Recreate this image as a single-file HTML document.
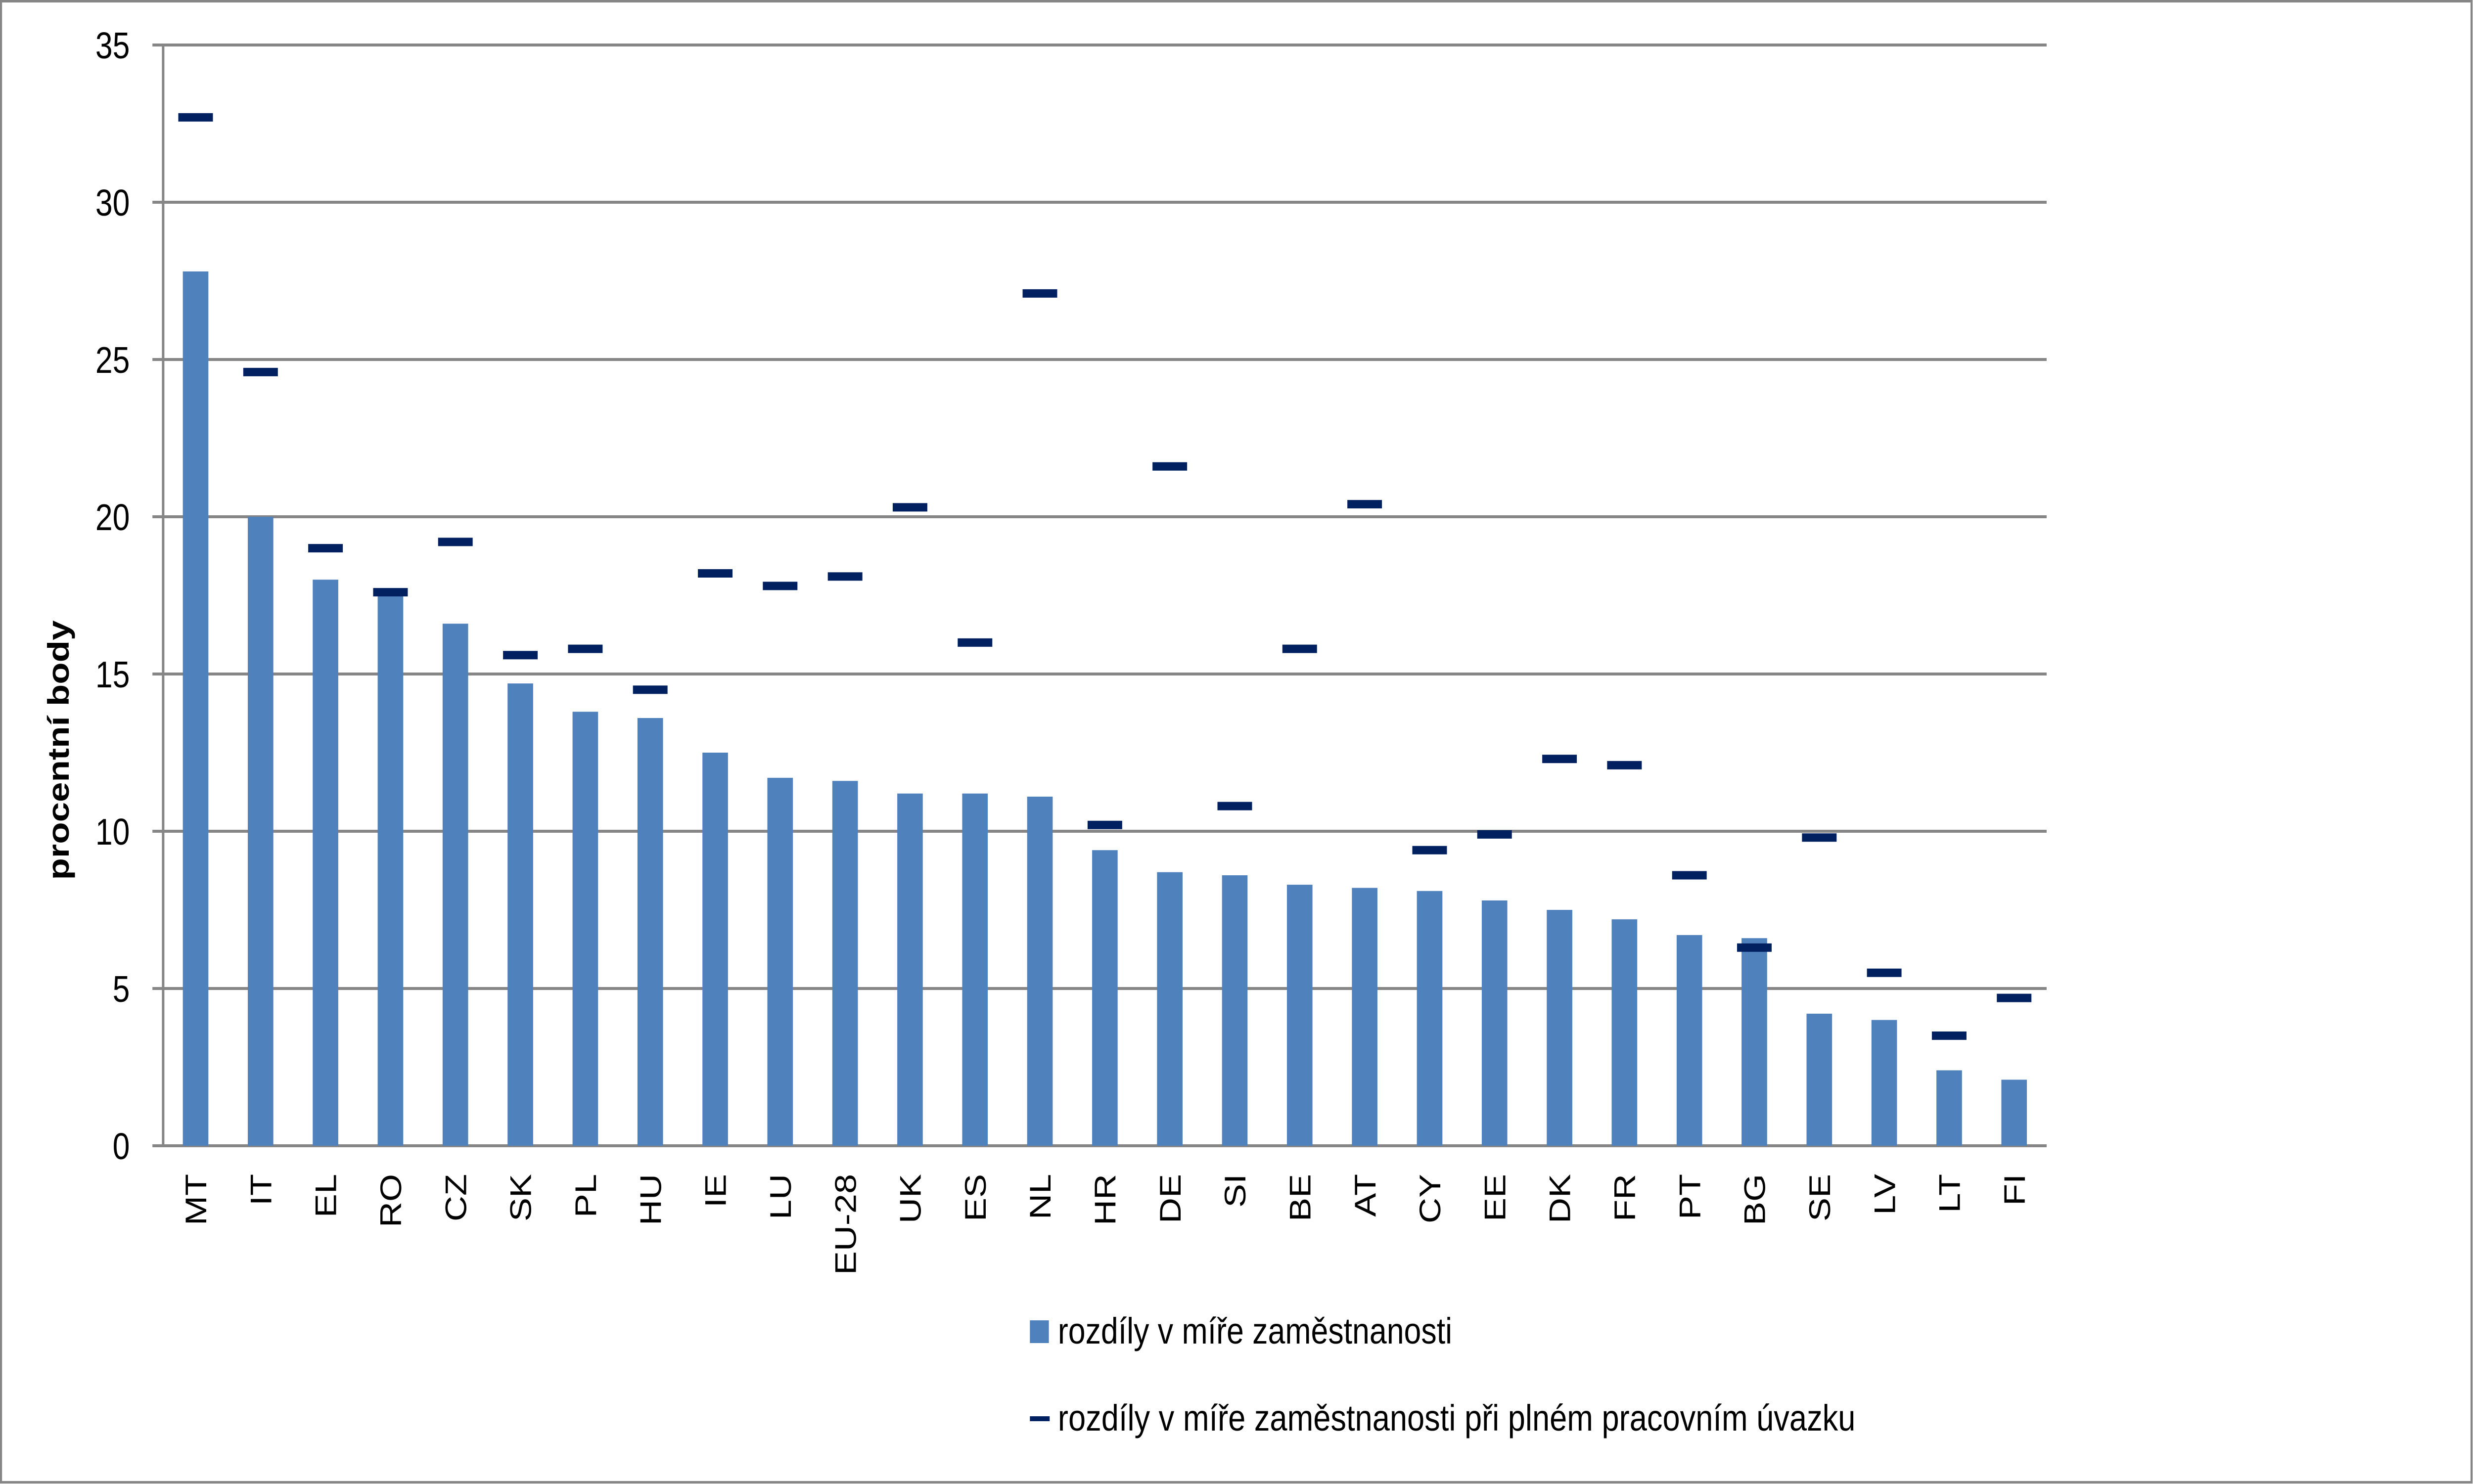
<!DOCTYPE html>
<html><head><meta charset="utf-8"><style>html,body{margin:0;padding:0;background:#fff;width:100%;height:100%;overflow:hidden}svg{display:block;position:fixed;left:0;top:0;width:100vw;height:100vh}</style></head><body>
<svg xmlns="http://www.w3.org/2000/svg" viewBox="0 0 6003 3001" preserveAspectRatio="none" font-family="Liberation Sans, sans-serif">
<rect x="0" y="0" width="6003" height="3001" fill="#fff"/>
<rect x="2.5" y="2.5" width="5997" height="2995" fill="none" stroke="#868686" stroke-width="5"/>
<g stroke="#868686" stroke-width="6">
<line x1="370" x2="4968" y1="91" y2="91"/>
<line x1="370" x2="4968" y1="409" y2="409"/>
<line x1="370" x2="4968" y1="727" y2="727"/>
<line x1="370" x2="4968" y1="1045" y2="1045"/>
<line x1="370" x2="4968" y1="1363" y2="1363"/>
<line x1="370" x2="4968" y1="1681" y2="1681"/>
<line x1="370" x2="4968" y1="1999" y2="1999"/>
<line x1="370" x2="4968" y1="2317" y2="2317"/>
<line x1="396" x2="396" y1="91" y2="2317"/>
</g>
<g font-size="75" text-anchor="end" fill="#000">
<text x="315" y="118">35</text>
<text x="315" y="436">30</text>
<text x="315" y="754">25</text>
<text x="315" y="1072">20</text>
<text x="315" y="1390">15</text>
<text x="315" y="1708">10</text>
<text x="315" y="2026">5</text>
<text x="315" y="2344">0</text>
</g>
<g fill="#4f81bd">
<rect x="443.8" y="548.9" width="62" height="1768.1"/>
<rect x="601.5" y="1045" width="62" height="1272"/>
<rect x="759.1" y="1172.2" width="62" height="1144.8"/>
<rect x="916.8" y="1197.6" width="62" height="1119.4"/>
<rect x="1074.4" y="1261.2" width="62" height="1055.8"/>
<rect x="1232.1" y="1382.1" width="62" height="934.9"/>
<rect x="1389.8" y="1439.3" width="62" height="877.7"/>
<rect x="1547.4" y="1452" width="62" height="865"/>
<rect x="1705.1" y="1522" width="62" height="795"/>
<rect x="1862.7" y="1572.9" width="62" height="744.1"/>
<rect x="2020.4" y="1579.2" width="62" height="737.8"/>
<rect x="2178" y="1604.7" width="62" height="712.3"/>
<rect x="2335.7" y="1604.7" width="62" height="712.3"/>
<rect x="2493.3" y="1611" width="62" height="706"/>
<rect x="2651" y="1719.2" width="62" height="597.8"/>
<rect x="2808.6" y="1763.7" width="62" height="553.3"/>
<rect x="2966.3" y="1770" width="62" height="547"/>
<rect x="3123.9" y="1789.1" width="62" height="527.9"/>
<rect x="3281.6" y="1795.5" width="62" height="521.5"/>
<rect x="3439.3" y="1801.8" width="62" height="515.2"/>
<rect x="3596.9" y="1820.9" width="62" height="496.1"/>
<rect x="3754.6" y="1840" width="62" height="477"/>
<rect x="3912.2" y="1859.1" width="62" height="457.9"/>
<rect x="4069.9" y="1890.9" width="62" height="426.1"/>
<rect x="4227.5" y="1897.2" width="62" height="419.8"/>
<rect x="4385.2" y="2049.9" width="62" height="267.1"/>
<rect x="4542.8" y="2062.6" width="62" height="254.4"/>
<rect x="4700.5" y="2164.4" width="62" height="152.6"/>
<rect x="4858.1" y="2183.4" width="62" height="133.6"/>
</g>
<g fill="#002060">
<rect x="432.8" y="228.8" width="84" height="17"/>
<rect x="590.5" y="743.9" width="84" height="17"/>
<rect x="748.1" y="1100.1" width="84" height="17"/>
<rect x="905.8" y="1189.1" width="84" height="17"/>
<rect x="1063.4" y="1087.4" width="84" height="17"/>
<rect x="1221.1" y="1316.3" width="84" height="17"/>
<rect x="1378.8" y="1303.6" width="84" height="17"/>
<rect x="1536.4" y="1386.3" width="84" height="17"/>
<rect x="1694.1" y="1151" width="84" height="17"/>
<rect x="1851.7" y="1176.4" width="84" height="17"/>
<rect x="2009.4" y="1157.3" width="84" height="17"/>
<rect x="2167" y="1017.4" width="84" height="17"/>
<rect x="2324.7" y="1290.9" width="84" height="17"/>
<rect x="2482.3" y="584.9" width="84" height="17"/>
<rect x="2640" y="1659.8" width="84" height="17"/>
<rect x="2797.6" y="934.7" width="84" height="17"/>
<rect x="2955.3" y="1621.6" width="84" height="17"/>
<rect x="3112.9" y="1303.6" width="84" height="17"/>
<rect x="3270.6" y="1011.1" width="84" height="17"/>
<rect x="3428.3" y="1710.7" width="84" height="17"/>
<rect x="3585.9" y="1678.9" width="84" height="17"/>
<rect x="3743.6" y="1526.2" width="84" height="17"/>
<rect x="3901.2" y="1538.9" width="84" height="17"/>
<rect x="4058.9" y="1761.5" width="84" height="17"/>
<rect x="4216.5" y="1907.8" width="84" height="17"/>
<rect x="4374.2" y="1685.2" width="84" height="17"/>
<rect x="4531.8" y="1958.7" width="84" height="17"/>
<rect x="4689.5" y="2085.9" width="84" height="17"/>
<rect x="4847.1" y="2009.6" width="84" height="17"/>
</g>
<g font-size="72" text-anchor="end" fill="#000">
<text transform="translate(500.8,2374) rotate(-90)">MT</text>
<text transform="translate(658.5,2374) rotate(-90)">IT</text>
<text transform="translate(816.1,2374) rotate(-90)">EL</text>
<text transform="translate(973.8,2374) rotate(-90)">RO</text>
<text transform="translate(1131.4,2374) rotate(-90)">CZ</text>
<text transform="translate(1289.1,2374) rotate(-90)">SK</text>
<text transform="translate(1446.8,2374) rotate(-90)">PL</text>
<text transform="translate(1604.4,2374) rotate(-90)">HU</text>
<text transform="translate(1762.1,2374) rotate(-90)">IE</text>
<text transform="translate(1919.7,2374) rotate(-90)">LU</text>
<text transform="translate(2077.4,2374) rotate(-90)">EU-28</text>
<text transform="translate(2235,2374) rotate(-90)">UK</text>
<text transform="translate(2392.7,2374) rotate(-90)">ES</text>
<text transform="translate(2550.3,2374) rotate(-90)">NL</text>
<text transform="translate(2708,2374) rotate(-90)">HR</text>
<text transform="translate(2865.6,2374) rotate(-90)">DE</text>
<text transform="translate(3023.3,2374) rotate(-90)">SI</text>
<text transform="translate(3180.9,2374) rotate(-90)">BE</text>
<text transform="translate(3338.6,2374) rotate(-90)">AT</text>
<text transform="translate(3496.3,2374) rotate(-90)">CY</text>
<text transform="translate(3653.9,2374) rotate(-90)">EE</text>
<text transform="translate(3811.6,2374) rotate(-90)">DK</text>
<text transform="translate(3969.2,2374) rotate(-90)">FR</text>
<text transform="translate(4126.9,2374) rotate(-90)">PT</text>
<text transform="translate(4284.5,2374) rotate(-90)">BG</text>
<text transform="translate(4442.2,2374) rotate(-90)">SE</text>
<text transform="translate(4599.8,2374) rotate(-90)">LV</text>
<text transform="translate(4757.5,2374) rotate(-90)">LT</text>
<text transform="translate(4915.1,2374) rotate(-90)">FI</text>
</g>
<text transform="translate(167,1517) rotate(-90)" text-anchor="middle" font-size="72" font-weight="bold" textLength="525" lengthAdjust="spacingAndGlyphs" fill="#000">procentní body</text>
<rect x="2500" y="2670" width="46" height="46" fill="#4f81bd"/>
<text x="2568" y="2717" font-size="74" textLength="957" lengthAdjust="spacingAndGlyphs" fill="#000">rozdíly v míře zaměstnanosti</text>
<rect x="2500" y="2864" width="48" height="10" fill="#002060"/>
<text x="2568" y="2893" font-size="74" textLength="1936" lengthAdjust="spacingAndGlyphs" fill="#000">rozdíly v míře zaměstnanosti při plném pracovním úvazku</text>
</svg>
</body></html>
